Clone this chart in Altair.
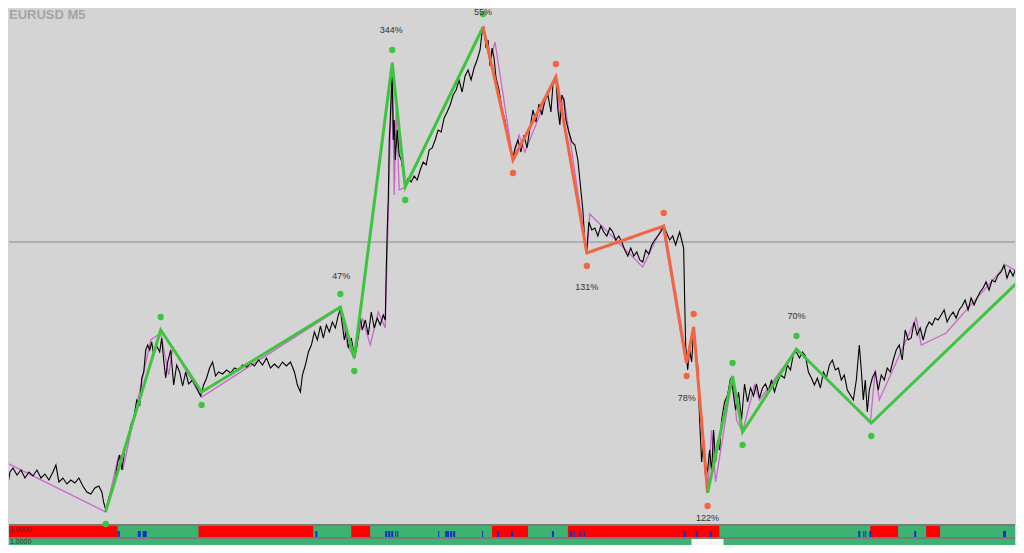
import altair as alt
import pandas as pd

# ---------------- data (bar index, price level; level grows downward) ----
px = [0,3,6,9,12,16,20,24,28,32,36,40,44,48,52,55,58,62,66,70,74,78,82,86,90,94,98,101,103,105,
      108,111,114,117,119,121,124,127,130,133,136,139,141,143,145,147,149,151,153,156,159,161,163,165,167,170,173,176,179,182,185,188,192,196,200,
      203,206,209,212,215,218,222,226,230,234,238,242,246,250,254,258,262,266,270,274,278,282,286,290,294,297,300,
      302,305,308,311,314,317,320,323,326,329,332,335,338,340,342,344,346,348,351,354,356,358,360,362,365,368,371,374,377,380,383,385,
      386,387,388,389,390,391,392,393,394,395,397,399,401,403,405,408,411,414,417,420,423,426,429,432,435,438,441,444,447,450,453,456,459,462,465,468,471,474,477,480,482,
      484,486,488,490,492,494,496,499,502,505,508,511,513,515,518,521,524,527,530,533,536,539,542,545,548,551,553,556,
      558,560,562,564,566,569,572,575,578,581,583,585,587,589,592,595,598,601,604,607,610,613,616,619,622,625,628,631,634,637,640,643,646,649,652,655,658,661,664,
      667,670,673,676,678,680,682,684,685,686,688,690,692,694,696,698,700,702,704,706,708,710,712,714,716,718,720,
      722,725,728,731,733,736,739,742,745,748,751,754,757,760,763,766,769,772,775,778,781,785,788,791,794,797,800,803,806,809,812,815,818,821,824,827,830,833,836,839,842,845,848,851,854,857,860,862,864,866,868,870,
      873,876,879,882,885,888,891,894,897,900,903,906,909,912,915,918,921,924,927,930,933,936,939,942,945,948,951,954,957,960,963,966,969,972,975,978,981,984,987,990,993,996,999,1002,1005,1008,1011,1014,1017,1020,1024]
py = [465,470,490,472,468,475,470,478,472,476,470,478,474,480,472,465,482,478,484,480,483,478,486,492,494,488,486,492,503,510,
      498,490,480,462,455,470,450,440,425,418,400,405,378,372,350,345,350,342,355,346,352,338,360,378,362,350,385,365,372,386,372,384,380,388,396,
      385,378,368,362,376,372,374,370,373,368,370,365,367,363,366,360,365,358,368,364,368,362,366,362,372,385,392,
      375,365,352,345,332,340,326,338,325,332,322,328,315,309,325,340,330,348,338,356,350,335,318,330,320,335,312,328,318,325,315,320,
      270,230,200,140,120,95,70,140,120,160,130,155,160,172,185,178,182,176,180,170,162,165,150,148,140,130,132,118,112,105,95,90,80,92,76,70,80,68,60,50,32,
      28,48,40,66,48,58,78,90,110,120,140,150,158,148,140,152,135,148,128,110,122,104,115,100,95,112,85,78,
      110,125,95,100,120,132,142,145,160,190,210,242,250,222,230,228,236,226,232,236,228,232,240,236,242,250,256,248,256,252,260,262,250,254,245,240,236,232,226,
      233,240,236,245,238,232,240,248,300,345,370,350,362,330,350,365,420,462,440,478,470,450,472,430,462,440,450,
      420,402,395,378,388,410,392,420,384,402,388,396,384,398,388,384,392,380,392,382,375,378,365,370,354,352,358,352,356,372,378,385,378,388,372,378,365,360,370,368,380,375,390,395,400,380,345,370,400,380,412,390,
      378,372,390,375,380,368,372,360,350,345,360,330,340,338,322,335,328,340,328,322,325,318,320,315,310,322,316,312,318,310,306,300,310,298,305,298,292,288,282,290,280,282,275,272,265,278,270,276,268,274,270]

purple_x = [0,105,118,122,150,160,168,172,201,340,347,354,362,370,378,385,392,394,396,399,405,483,490,495,513,519,525,556,560,564,587,590,643,663,686,694,708,712,716,733,737,743,755,760,797,871,876,880,917,922,947,1007,1024]
purple_y = [460,512,455,470,340,333,375,348,397,308,345,358,318,345,312,328,62,195,110,190,187,27,62,42,160,135,152,75,120,98,253,214,267,226,363,327,493,430,482,376,420,432,385,400,349,423,370,400,318,345,333,265,275]

zz_x = [105,160,201,340,354,392,405,483, 483,513,556,587,664,687,694,708, 708,733,743,797,872,1024]
zz_y = [511,330,392,307,358,63,187,27, 27,160,77,253,226,363,327,493, 493,376,432,349,423,277]
zz_leg = ["up1"]*8 + ["down"]*8 + ["up2"]*6

dot_x = [105,160,201,340,354,392,405,483,513,556,587,664,687,694,708,733,743,797,872]
dot_y = [511,330,392,307,358,63,187,27,160,77,253,226,363,327,493,376,432,349,423]
dot_side = ["low","high","low","high","low","high","low","high","low","high","low","high","low","high","low","high","low","high","low"]
dot_col = ["g"]*8 + ["r"]*7 + ["g"]*4

lab_x = [391,483,341,587,687,708,797]
lab_y = [30,12,276,287,398,518,316]
lab_t = ["344%","55%","47%","131%","78%","122%","70%"]

level_line = [242]

strip_a = [0,117,198,313,351,370,492,528,568,720,871,899,927,941]
strip_b = [117,198,313,351,370,492,528,568,720,871,899,927,941,1024]
strip_s = ["r","g","r","g","r","g","r","g","r","g","r","g","r","g"]

strip2_a = [0,692,724]
strip2_b = [692,724,1024]
strip2_s = ["g","w","g"]

tick_a = [117,137,142,315,385,388,391,395,397,438,445,447,450,453,482,497,511,552,570,574,580,584,684,696,710,859,864,866,870,915,1004]
tick_b = [119,140,146,317,387,390,393,396,398,439,447,449,452,455,483,499,513,554,572,575,581,585,686,698,712,861,865,867,872,917,1007]

strip_label = ["1.0000"]

# ---------------- styling ----------------
BG = "#d4d4d4"
GREEN = "#3fc43f"
RED = "#f2653f"
PURPLE = "#cc66cc"
W, H = 1008, 537
xs = alt.Scale(domain=[8, 1016], nice=False, zero=False)
ys = alt.Scale(domain=[545, 8], nice=False, zero=False)

def X(f):
    return alt.X(f + ":Q", scale=xs, axis=None)

def Y(f):
    return alt.Y(f + ":Q", scale=ys, axis=None)

price = pd.DataFrame({"bx": px, "lv": py})
purple = pd.DataFrame({"bx": purple_x, "lv": purple_y})
zz = pd.DataFrame({"bx": zz_x, "lv": zz_y, "leg": zz_leg})
dots = pd.DataFrame({"bx": dot_x, "lv": dot_y, "side": dot_side, "c": dot_col})
labs = pd.DataFrame({"bx": lab_x, "lv": lab_y, "t": lab_t})
strip1 = pd.DataFrame({"a": strip_a, "b": strip_b, "s": strip_s})
strip2 = pd.DataFrame({"a": strip2_a, "b": strip2_b, "s": strip2_s})
ticks = pd.DataFrame({"a": tick_a, "b": tick_b})
hline = pd.DataFrame({"lv": level_line})
slab = pd.DataFrame({"t": strip_label})

col_scale = alt.Scale(domain=["r", "g", "w"], range=["#ff0000", "#3cb371", "#f6f6f6"])

sep = alt.Chart(pd.DataFrame({"a": [0], "b": [1024]})).mark_rect(color="#7a7a7a", clip=True).encode(
    x=X("a"), x2="b", y=alt.value(516), y2=alt.value(531))

s1 = alt.Chart(strip1).mark_rect(clip=True).encode(
    x=X("a"), x2="b", y=alt.value(518), y2=alt.value(529),
    color=alt.Color("s:N", scale=col_scale, legend=None))

s2 = alt.Chart(strip2).mark_rect(clip=True).encode(
    x=X("a"), x2="b", y=alt.value(531), y2=alt.value(537),
    color=alt.Color("s:N", scale=col_scale, legend=None))

tk = alt.Chart(ticks).mark_rect(color="#1030c8", clip=True).encode(
    x=X("a"), x2="b", y=alt.value(523), y2=alt.value(529))

st1 = alt.Chart(slab).mark_text(align="left", baseline="middle", fontSize=7, font="Liberation Sans",
                                color="#552222").encode(x=alt.value(1), y=alt.value(522), text="t:N")
st2 = alt.Chart(slab).mark_text(align="left", baseline="middle", fontSize=7, font="Liberation Sans",
                                color="#223322").encode(x=alt.value(1), y=alt.value(534), text="t:N")

hl = alt.Chart(hline).mark_rule(color="#8a8a8a", strokeWidth=1).encode(y=Y("lv"))

pur = alt.Chart(purple).mark_line(color=PURPLE, strokeWidth=1.3, clip=True).encode(
    x=X("bx"), y=Y("lv"))

blk = alt.Chart(price).mark_line(color="#000000", strokeWidth=1.1, clip=True).encode(
    x=X("bx"), y=Y("lv"))

zzl = alt.Chart(zz).mark_line(strokeWidth=3, clip=True).encode(
    x=X("bx"), y=Y("lv"), detail="leg:N",
    color=alt.Color("leg:N", scale=alt.Scale(domain=["up1", "down", "up2"], range=[GREEN, RED, GREEN]), legend=None))

dot_scale = alt.Scale(domain=["g", "r"], range=[GREEN, RED])
dh = alt.Chart(dots).transform_filter(alt.datum.side == "high").mark_circle(size=40, opacity=1, yOffset=-13).encode(
    x=X("bx"), y=Y("lv"), color=alt.Color("c:N", scale=dot_scale, legend=None))
dl = alt.Chart(dots).transform_filter(alt.datum.side == "low").mark_circle(size=40, opacity=1, yOffset=13).encode(
    x=X("bx"), y=Y("lv"), color=alt.Color("c:N", scale=dot_scale, legend=None))

lt = alt.Chart(labs).mark_text(fontSize=9, font="Liberation Sans", color="#333333", baseline="middle").encode(
    x=X("bx"), y=Y("lv"), text="t:N")

title = alt.Chart(pd.DataFrame({"t": ["EURUSD M5"]})).mark_text(
    align="left", baseline="top", fontSize=13, fontWeight="bold", font="Liberation Sans", color="#a4a4a4").encode(
    x=alt.value(0), y=alt.value(1), text="t:N")

chart = alt.layer(sep, s1, s2, tk, st1, st2, hl, pur, blk, zzl, dh, dl, lt, title).resolve_scale(
    color="independent").properties(
    width=W, height=H, background=BG, padding=0,
    autosize=alt.AutoSizeParams(type="fit", contains="padding")
).configure_view(stroke=None, fill=BG)

chart.save("out.html", embed_options={"renderer": "svg", "actions": False})
